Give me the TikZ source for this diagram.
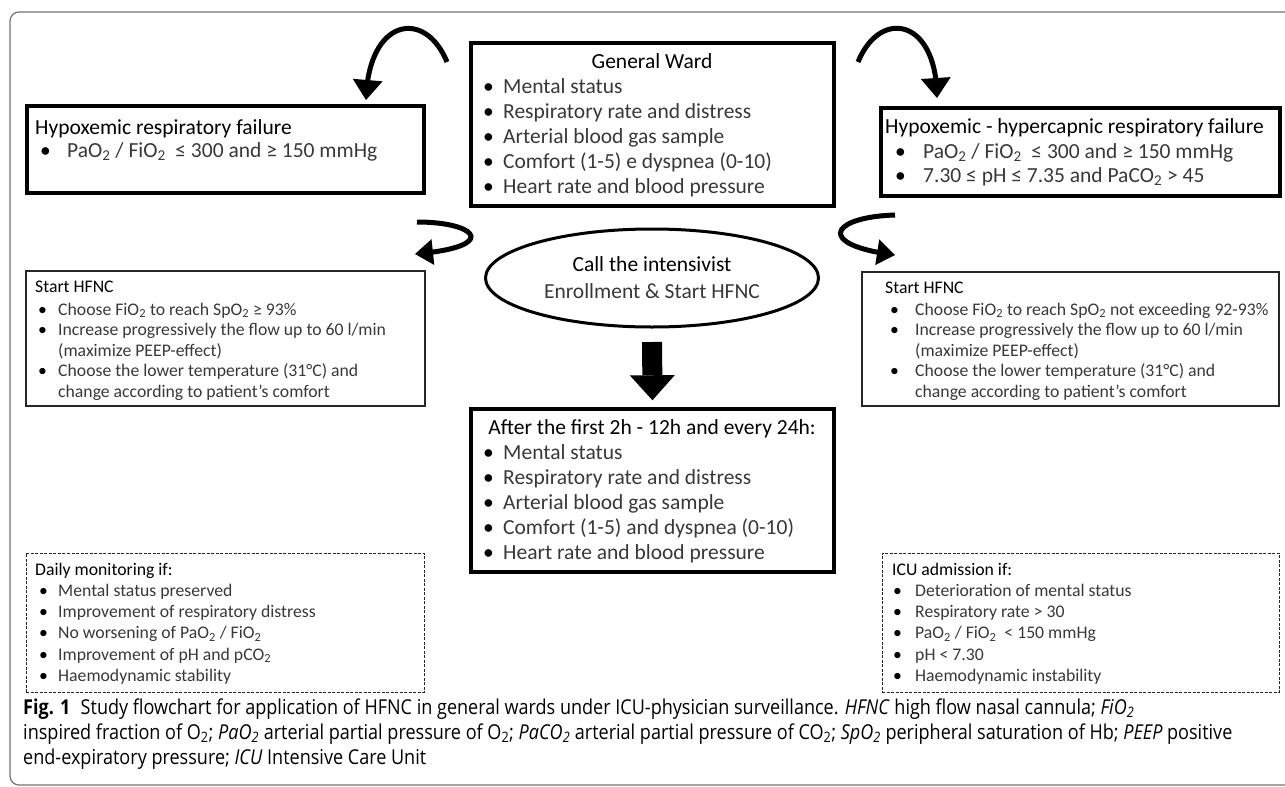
\documentclass[tikz,border=0pt]{standalone}
\usepackage{fontspec}
\setmainfont{Carlito}
\newfontfamily\capfont[FakeStretch=0.88]{Open Sans}
\usetikzlibrary{arrows.meta,shapes.geometric,bending}
\colorlet{lighttext}{black!78}
\newcommand\bl[2][20pt]{\makebox[#1][l]{\textbullet}{\color{lighttext}#2}}
\newcommand\sub[1]{\textsubscript{#1}}
\begin{document}
\begin{tikzpicture}[x=1pt,y=-1pt,
  bigbox/.style={draw=black, line width=3.5pt, inner sep=0pt},
  thinbox/.style={draw=black!85, line width=1.3pt, inner sep=0pt},
  dashbox/.style={draw=black!85, line width=1pt, dash pattern=on 3pt off 1.5pt, inner sep=0pt},
  big/.style={font=\fontsize{21.5}{25}\selectfont, inner sep=0pt, align=left},
  small/.style={font=\fontsize{17.7}{20.5}\selectfont, inner sep=0pt, align=left},
  curved/.style={line width=5pt, -{Triangle[length=20pt,width=30pt,line width=0pt]}},
  uarrow/.style={line width=5pt, -{Triangle[length=18pt,width=26pt,line width=0pt]}},
]
\useasboundingbox (0,0) rectangle (1285,787);
\draw[black!55, line width=1.2pt, rounded corners=9pt] (10,12) rectangle (1310,785);

% boxes
\node[bigbox, minimum width=397pt, minimum height=87pt] (hypL) at (225.5,149.5) {};
\node[bigbox, minimum width=363pt, minimum height=163pt] (gw) at (652.5,124.5) {};
\node[bigbox, minimum width=399pt, minimum height=88pt] (hypR) at (1080.5,152) {};
\node[thinbox, minimum width=399pt, minimum height=135pt] (shL) at (225.5,338.5) {};
\node[thinbox, minimum width=417pt, minimum height=134pt] (shR) at (1070.5,339) {};
\node[bigbox, minimum width=363pt, minimum height=163pt] (after) at (652.5,490.5) {};
\node[dashbox, minimum width=398pt, minimum height=139pt] (dmL) at (225,622.5) {};
\node[dashbox, minimum width=397pt, minimum height=139pt] (icu) at (1080.5,622.5) {};
\node[draw, ellipse, line width=3pt, minimum width=333pt, minimum height=98pt, inner sep=0pt,
      align=center, font=\fontsize{21.5}{27}\selectfont] (ell) at (652,278)
      {Call the intensivist\\ {\color{lighttext}Enrollment \& Start HFNC}};

% texts (anchored at top of first line; first line carries a strut)
\node[big, anchor=north west] (hypLt) at (35,116.5)
  {\strut Hypoxemic respiratory failure\\[-2pt] \hspace*{5pt}\bl[27pt]{PaO\sub2 / FiO\sub2 \ ≤ 300 and ≥ 150 mmHg}};
\node[big, anchor=base] (gwt) at (652,68) {General Ward};
\node[big, anchor=north west] (gwl) at (483,75.5)
  {\strut\bl{Mental status}\\ \bl{Respiratory rate and distress}\\ \bl{Arterial blood gas sample}\\
   \bl{Comfort (1-5) e dyspnea (0-10)}\\ \bl{Heart rate and blood pressure}};
\node[big, anchor=north west] (hypRt) at (885,115.5)
  {\strut Hypoxemic - hypercapnic respiratory failure\\
   \hspace*{10pt}\bl[28pt]{PaO\sub2 / FiO\sub2 \ ≤ 300 and ≥ 150 mmHg}\\[-1pt]
   \hspace*{10pt}\bl[28pt]{7.30 ≤ pH ≤ 7.35 and PaCO\sub2 > 45}};
\node[small, anchor=north west] (shLt) at (35,277.6)
  {\strut Start HFNC\\[2.5pt]
   \hspace*{3pt}\bl{Choose FiO\sub2 to reach SpO\sub2 ≥ 93\%}\\
   \hspace*{3pt}\bl{Increase progressively the flow up to 60 l/min}\\
   \hspace*{23pt}{\color{lighttext}(maximize PEEP-effect)}\\
   \hspace*{3pt}\bl{Choose the lower temperature (31°C) and}\\
   \hspace*{23pt}{\color{lighttext}change according to patient’s comfort}};
\node[small, anchor=north west] (shRt) at (885,278.6)
  {\strut Start HFNC\\[1.5pt]
   \hspace*{5pt}\bl[25pt]{Choose FiO\sub2 to reach SpO\sub2 not exceeding 92-93\%}\\
   \hspace*{5pt}\bl[25pt]{Increase progressively the flow up to 60 l/min}\\
   \hspace*{30pt}{\color{lighttext}(maximize PEEP-effect)}\\
   \hspace*{5pt}\bl[25pt]{Choose the lower temperature (31°C) and}\\
   \hspace*{30pt}{\color{lighttext}change according to patient’s comfort}};
\node[big, anchor=base] (aftt) at (652,434) {After the first 2h - 12h and every 24h:};
\node[big, anchor=north west] (aftl) at (483,441.5)
  {\strut\bl{Mental status}\\ \bl{Respiratory rate and distress}\\ \bl{Arterial blood gas sample}\\
   \bl{Comfort (1-5) and dyspnea (0-10)}\\ \bl{Heart rate and blood pressure}};
\node[small, anchor=north west, font=\fontsize{17.7}{21.2}\selectfont] (dmLt) at (35,560.2)
  {\strut Daily monitoring if:\\
   \hspace*{4pt}\bl[19pt]{Mental status preserved}\\
   \hspace*{4pt}\bl[19pt]{Improvement of respiratory distress}\\
   \hspace*{4pt}\bl[19pt]{No worsening of PaO\sub2 / FiO\sub2}\\
   \hspace*{4pt}\bl[19pt]{Improvement of pH and pCO\sub2}\\
   \hspace*{4pt}\bl[19pt]{Haemodynamic stability}};
\node[small, anchor=north west, font=\fontsize{17.7}{21.2}\selectfont] (icut) at (892,560.2)
  {\strut ICU admission if:\\
   \hspace*{1pt}\bl[22pt]{Deterioration of mental status}\\
   \hspace*{1pt}\bl[22pt]{Respiratory rate > 30}\\
   \hspace*{1pt}\bl[22pt]{PaO\sub2 / FiO\sub2 \ < 150 mmHg}\\
   \hspace*{1pt}\bl[22pt]{pH < 7.30}\\
   \hspace*{1pt}\bl[22pt]{Haemodynamic instability}};

% arrows
\coordinate (a1s) at (447,62);  \coordinate (a1e) at (366,100);
\coordinate (a2s) at (858,62);  \coordinate (a2e) at (937,98);
\coordinate (u1s) at (417,222); \coordinate (u1e) at (415,254);
\coordinate (u2s) at (895,215); \coordinate (u2e) at (895,255);
\draw[curved] (a1s) .. controls (425,8) and (368,18) .. (a1e);
\draw[curved] (a2s) .. controls (880,8) and (937,18) .. (a2e);
\draw[uarrow] (u1s) .. controls (478,222) and (500,247) .. (u1e);
\draw[uarrow] (u2s) .. controls (830,217) and (815,245) .. (u2e);
\draw[line width=20pt, -{Triangle[length=25pt,width=45pt,line width=0pt]},
      shorten <=13.5pt, shorten >=7pt] (ell.south) -- (after.north);

% caption
\node[anchor=north west, inner sep=0pt, align=left, font=\capfont\fontsize{20.5}{25}\selectfont] (cap) at (23,696.5)
  {\strut\textbf{Fig. 1}\enspace Study flowchart for application of HFNC in general wards under ICU-physician surveillance. \textit{HFNC} high flow nasal cannula; \textit{FiO\sub2}\\
   inspired fraction of O\sub2; \textit{PaO\sub2} arterial partial pressure of O\sub2; \textit{PaCO\sub2} arterial partial pressure of CO\sub2; \textit{SpO\sub2} peripheral saturation of Hb; \textit{PEEP} positive\\
   end-expiratory pressure; \textit{ICU} Intensive Care Unit};
\end{tikzpicture}
\end{document}
